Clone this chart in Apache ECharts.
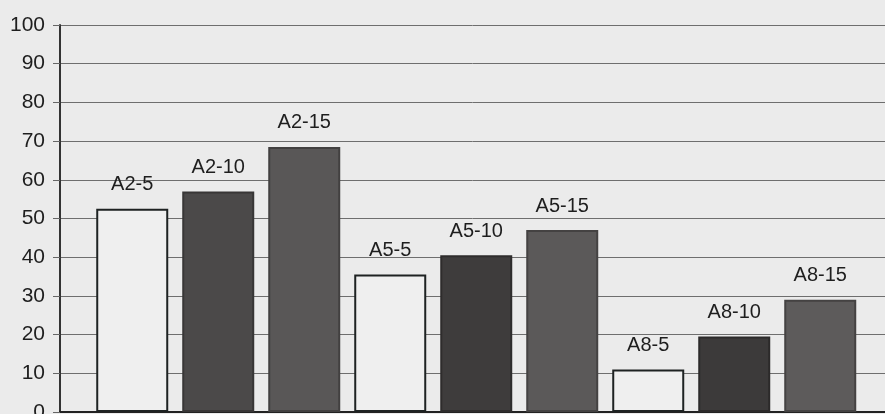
<!DOCTYPE html>
<html>
<head>
<meta charset="utf-8">
<script src="https://cdn.jsdelivr.net/npm/echarts@6/dist/echarts.min.js"></script>
<style>
    html,body{margin:0;padding:0;background:#ebebeb;}
    #main{width:885px;height:414px;}
</style>
</head>
<body>
<div id="main"></div>
<script>
    var categories = ['A2-5','A2-10','A2-15','A5-5','A5-10','A5-15','A8-5','A8-10','A8-15'];
    var values = [52.5, 57, 68.5, 35.5, 40.5, 47, 11, 19.5, 29];
    var yTicks = [0, 10, 20, 30, 40, 50, 60, 70, 80, 90, 100];

    // 柱子颜色: 5 白色, 10 深灰, 15 灰
    var fills = ['#efefef','#4b4949','#595757','#efefef','#3e3c3c','#5b5959','#efefef','#3c3a3a','#5d5b5b'];
    var borders = ['#1e2222','#383636','#424040','#1e2222','#2e2c2c','#444242','#1e2222','#2c2a2a','#444242'];

    var barData = [];
    for (var i = 0; i < categories.length; i++) {
        barData.push({
            name: categories[i],
            value: [i, values[i]],
            itemStyle: {color: fills[i], borderColor: borders[i], borderWidth: 2}
        });
    }

    var myChart = echarts.init(document.getElementById('main'));
    myChart.setOption({
        backgroundColor: '#ebebeb',
        animation: false,
        grid: {left: 60, top: 25, right: 0, bottom: 2, containLabel: false, outerBoundsMode: 'none'},
        xAxis: {
            type: 'value',
            min: -0.84,
            max: 8.753,
            axisLine: {show: true, onZero: false, lineStyle: {color: '#222', width: 2}},
            axisTick: {show: false},
            axisLabel: {show: false},
            splitLine: {show: false}
        },
        yAxis: {
            type: 'value',
            min: yTicks[0],
            max: yTicks[yTicks.length - 1],
            interval: 10,
            axisLine: {show: true, onZero: false, lineStyle: {color: '#333', width: 2}},
            axisTick: {show: true, length: 7, lineStyle: {color: '#666'}},
            axisLabel: {
                margin: 15,
                color: '#1e1e1e',
                fontFamily: 'Liberation Sans, Arial, sans-serif',
                fontSize: 21
            },
            splitLine: {show: true, lineStyle: {color: '#6e6e6e', width: 1}}
        },
        series: [{
            type: 'bar',
            barWidth: 72,
            data: barData,
            label: {
                show: true,
                position: 'top',
                distance: 14,
                formatter: '{b}',
                color: '#1e1e1e',
                fontFamily: 'Liberation Sans, Arial, sans-serif',
                fontSize: 20
            }
        }]
    });
</script>
</body>
</html>
